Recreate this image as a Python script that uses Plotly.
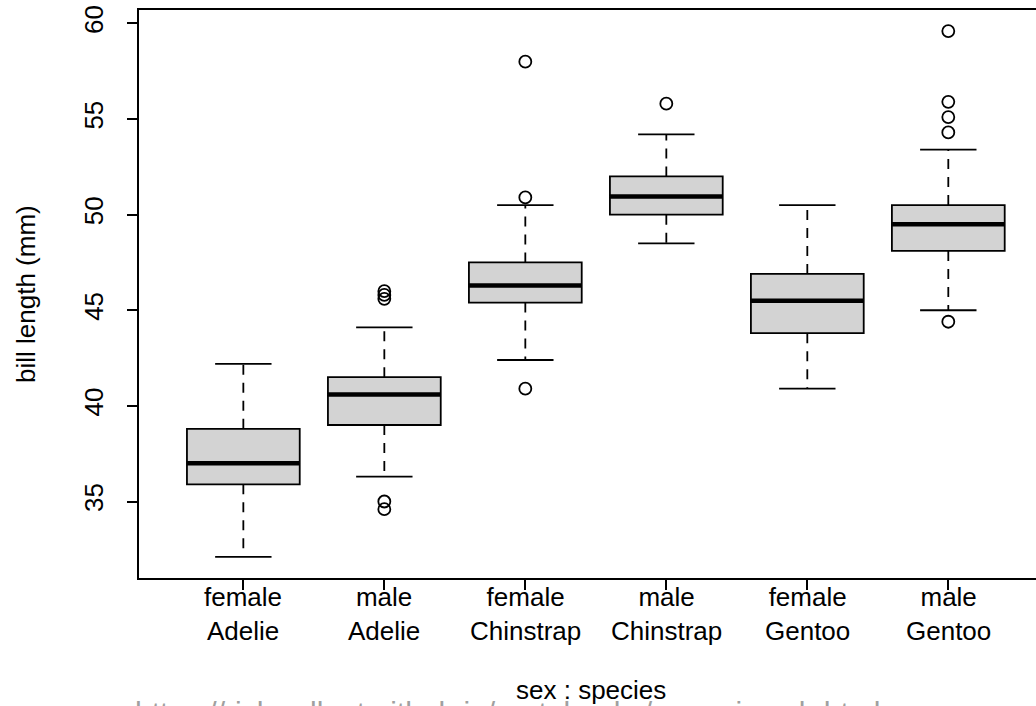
import plotly.graph_objects as go

# ---- data ----
sexes = ["female", "male", "female", "male", "female", "male"]
species = ["Adelie", "Adelie", "Chinstrap", "Chinstrap", "Gentoo", "Gentoo"]
lower_whisker = [32.1, 36.3, 42.4, 48.5, 40.9, 45.0]
q1 = [35.9, 39.0, 45.4, 50.0, 43.8, 48.1]
median = [37.0, 40.6, 46.3, 50.95, 45.5, 49.5]
q3 = [38.8, 41.5, 47.5, 52.0, 46.9, 50.5]
upper_whisker = [42.2, 44.1, 50.5, 54.2, 50.5, 53.4]
outliers = [
    [],
    [34.6, 35.0, 45.6, 45.8, 46.0],
    [40.9, 50.9, 58.0],
    [55.8],
    [],
    [44.4, 54.3, 55.1, 55.9, 59.6],
]
y_ticks = [35, 40, 45, 50, 55, 60]
x_title = "sex : species"
y_title = "bill length (mm)"
source_text = "https://richardlent.github.io/rnotebooks/penguins.nb.html"

# ---- style ----
FONT = "Liberation Sans, Arial, Helvetica, sans-serif"
FS = 26
BOX_W = 0.8
CAP_W = 0.4
LW = 1.8
pos = list(range(1, len(sexes) + 1))
labels = [f"{s}<br>{sp}" for s, sp in zip(sexes, species)]

fig = go.Figure()

# boxes (hinges only; whiskers drawn dashed below)
fig.add_trace(go.Box(
    x=pos, q1=q1, median=median, q3=q3,
    lowerfence=q1, upperfence=q3,
    width=BOX_W, whiskerwidth=0,
    fillcolor="#d3d3d3",
    line=dict(color="black", width=LW),
    boxpoints=False, hoverinfo="skip", showlegend=False,
))

# dashed whiskers
wx, wy = [], []
for p, a, b, c, d in zip(pos, lower_whisker, q1, q3, upper_whisker):
    wx += [p, p, None, p, p, None]
    wy += [c, d, None, b, a, None]
fig.add_trace(go.Scatter(
    x=wx, y=wy, mode="lines",
    line=dict(color="black", width=LW, dash="10px,8px"),
    hoverinfo="skip", showlegend=False,
))

# whisker caps
cx, cy = [], []
for p, a, d in zip(pos, lower_whisker, upper_whisker):
    cx += [p - CAP_W / 2, p + CAP_W / 2, None, p - CAP_W / 2, p + CAP_W / 2, None]
    cy += [d, d, None, a, a, None]
fig.add_trace(go.Scatter(
    x=cx, y=cy, mode="lines",
    line=dict(color="black", width=LW),
    hoverinfo="skip", showlegend=False,
))

# thick medians
mx, my = [], []
for p, m in zip(pos, median):
    mx += [p - BOX_W / 2, p + BOX_W / 2, None]
    my += [m, m, None]
fig.add_trace(go.Scatter(
    x=mx, y=my, mode="lines",
    line=dict(color="black", width=4.5),
    hoverinfo="skip", showlegend=False,
))

# outliers
ox, oy = [], []
for p, vals in zip(pos, outliers):
    ox += [p] * len(vals)
    oy += vals
fig.add_trace(go.Scatter(
    x=ox, y=oy, mode="markers",
    marker=dict(symbol="circle-open", size=12, color="black", line=dict(width=LW)),
    hoverinfo="skip", showlegend=False,
))

L, T, B = 139, 10, 128
W, H = 1036, 706
plot_h = H - T - B


def py(px):
    """pixel row -> paper y"""
    return (H - B - px) / plot_h


annotations = [
    dict(text=y_title, xref="paper", yref="paper",
         x=(26 - L) / (W - L), y=0.5, textangle=-90,
         showarrow=False, xanchor="center", yanchor="middle",
         font=dict(family=FONT, size=FS)),
    dict(text=x_title, xref="paper", yref="paper",
         x=(591 - L) / (W - L), y=py(690),
         showarrow=False, xanchor="center", yanchor="middle",
         font=dict(family=FONT, size=FS)),
    dict(text=source_text, xref="paper", yref="paper",
         x=(133 - L) / (W - L), y=py(694),
         showarrow=False, xanchor="left", yanchor="top",
         font=dict(family=FONT, size=30, color="#a0a0a0")),
]
for p, lab in zip(pos, labels):
    annotations.append(dict(
        text=lab, xref="x", yref="paper", x=p, y=py(614),
        showarrow=False, xanchor="center", yanchor="middle",
        font=dict(family=FONT, size=FS)))

fig.update_layout(
    width=W, height=H,
    margin=dict(l=L, r=0, t=T, b=B, pad=0, autoexpand=False),
    paper_bgcolor="white", plot_bgcolor="white",
    font=dict(family=FONT, size=FS, color="black"),
    xaxis=dict(
        range=[0.26, 6.622], tickmode="array", tickvals=pos,
        showticklabels=False,
        showline=True, linecolor="black", linewidth=1.5, mirror=True,
        ticks="outside", ticklen=10, tickwidth=1.5, tickcolor="black",
        showgrid=False, zeroline=False,
    ),
    yaxis=dict(
        range=[31.0, 60.7], tickmode="array", tickvals=y_ticks,
        ticktext=[str(v) for v in y_ticks],
        showline=True, linecolor="black", linewidth=1.5, mirror=False,
        ticks="outside", ticklen=10, tickwidth=1.5, tickcolor="black",
        showgrid=False, zeroline=False, tickangle=-90,
        tickfont=dict(family=FONT, size=FS),
        ticklabelstandoff=14,
    ),
    annotations=annotations,
)

fig.write_html(
    "out.html",
    config={"displayModeBar": False},
    post_script="document.body.style.margin='0';document.body.style.padding='0';",
)
